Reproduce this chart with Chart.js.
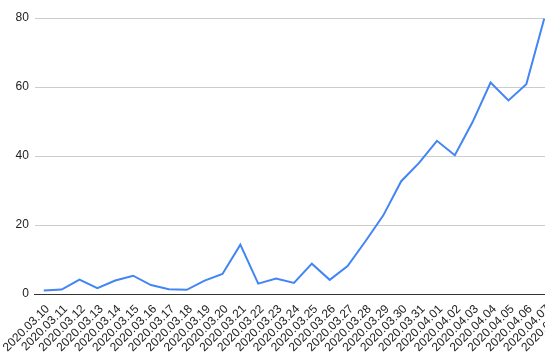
<!DOCTYPE html>
<html>
<head>
<meta charset="utf-8">
<script src="https://cdn.jsdelivr.net/npm/chart.js@4/dist/chart.umd.min.js"></script>
<style>
  html, body { margin: 0; padding: 0; background: #fff; overflow: hidden; }
  #wrap { width: 545px; height: 360px; overflow: hidden; }
</style>
</head>
<body>
<div id="wrap"><canvas id="chart" width="571" height="360"></canvas></div>
<script>
const dates = [
    "2020.03.10", "2020.03.11", "2020.03.12", "2020.03.13", "2020.03.14",
    "2020.03.15", "2020.03.16", "2020.03.17", "2020.03.18", "2020.03.19",
    "2020.03.20", "2020.03.21", "2020.03.22", "2020.03.23", "2020.03.24",
    "2020.03.25", "2020.03.26", "2020.03.27", "2020.03.28", "2020.03.29",
    "2020.03.30", "2020.03.31", "2020.04.01", "2020.04.02", "2020.04.03",
    "2020.04.04", "2020.04.05", "2020.04.06", "2020.04.07", "2020.04.08"
];
const values = [
    1.0, 1.3, 4.2, 1.7, 3.9,
    5.3, 2.6, 1.4, 1.2, 3.9,
    5.8, 14.3, 3.0, 4.5, 3.2,
    8.8, 4.1, 8.1, 15.3, 22.8,
    32.7, 38.0, 44.4, 40.2, 49.9,
    61.3, 56.1, 60.8, 79.8, null
];
const yTicks = [0, 20, 40, 60, 80];

const font = { family: "'Liberation Sans', Arial, sans-serif", size: 12 };

let ctx = document.querySelector("#chart").getContext('2d');
let myChart = new Chart(ctx, {
    type: 'line',
    data: {
        labels: dates,
        datasets: [{
            data: values,
            borderColor: '#4285f4',
            borderWidth: 2,
            pointRadius: 0,
            tension: 0,
            fill: false,
            spanGaps: false
        }]
    },
    options: {
        responsive: false,
        animation: false,
        layout: { padding: { top: 18, right: 0, left: 0, bottom: 0 } },
        plugins: {
            legend: { display: false },
            tooltip: { enabled: false }
        },
        scales: {
            x: {
                offset: true,
                grid: { display: false },
                border: { display: true, color: '#333', width: 1 },
                ticks: {
                    autoSkip: false,
                    minRotation: 45,
                    maxRotation: 45,
                    color: '#222',
                    font: font,
                    padding: 0,
                    labelOffset: 4
                },
                afterFit: scale => {
                    scale.height = 66;
                    scale.paddingLeft = 0;
                    scale.paddingRight = 0;
                }
            },
            y: {
                min: 0,
                max: 80,
                afterBuildTicks: scale => { scale.ticks = yTicks.map(v => ({ value: v })); },
                grid: { color: '#cccccc', drawTicks: false },
                border: { display: false },
                ticks: {
                    color: '#222',
                    font: font,
                    padding: 6
                },
                afterFit: scale => { scale.width = 34.8; }
            }
        }
    }
});
</script>
</body>
</html>
